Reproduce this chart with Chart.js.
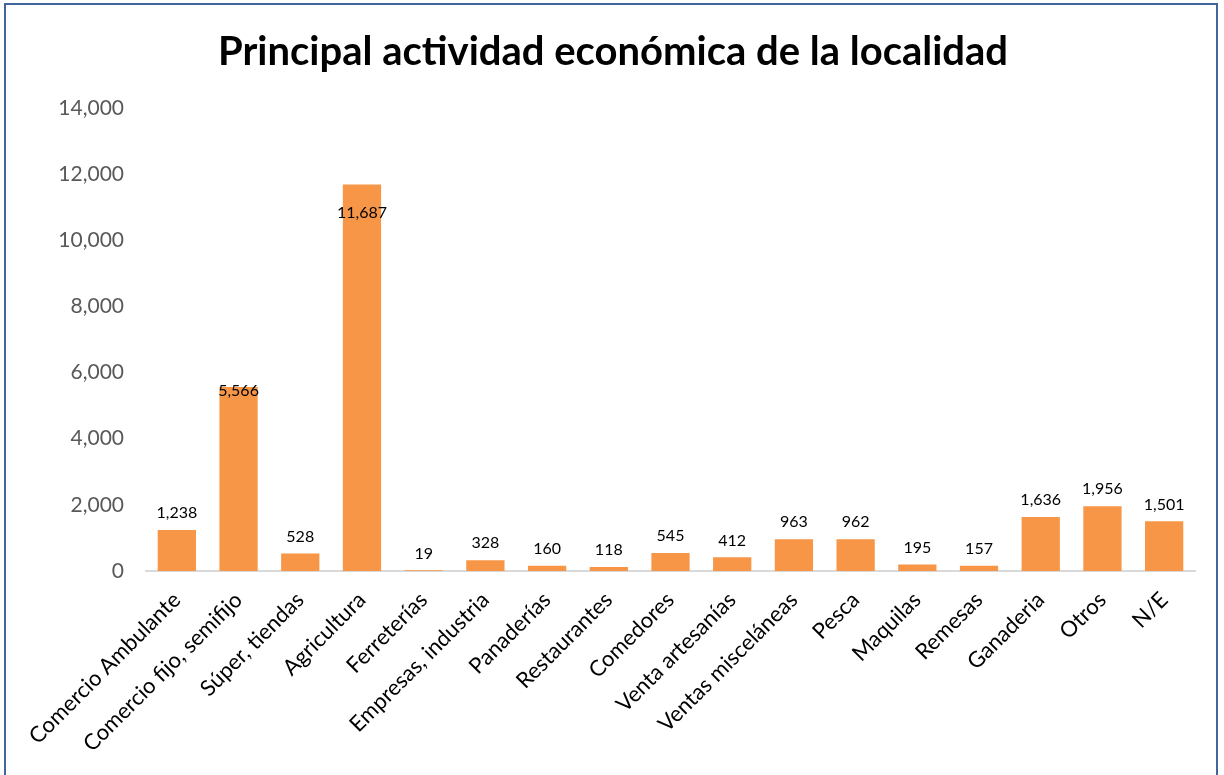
<!DOCTYPE html>
<html>
<head>
<meta charset="utf-8">
<script src="https://cdn.jsdelivr.net/npm/chart.js@4.4.1/dist/chart.umd.min.js"></script>
<style>
  html, body { margin: 0; padding: 0; background: #ffffff; }
  #wrap { position: relative; width: 1224px; height: 775px; overflow: hidden; }
  #frame { position: absolute; left: 4px; top: 3px; width: 1214px; height: 800px; border: 2px solid #41679A; box-sizing: border-box; pointer-events: none; }
  canvas { position: absolute; left: 0; top: 0; }
</style>
</head>
<body>
<div id="wrap">
  <canvas id="c" width="1224" height="775"></canvas>
  <div id="frame"></div>
</div>
<script>
const chartTitle = 'Principal actividad económica de la localidad';
const categories = ['Comercio Ambulante', 'Comercio fijo, semifijo', 'Súper, tiendas', 'Agricultura', 'Ferreterías', 'Empresas, industria', 'Panaderías', 'Restaurantes', 'Comedores', 'Venta artesanías', 'Ventas misceláneas', 'Pesca', 'Maquilas', 'Remesas', 'Ganaderia', 'Otros', 'N/E'];
const values = [1238, 5566, 528, 11687, 19, 328, 160, 118, 545, 412, 963, 962, 195, 157, 1636, 1956, 1501];
const yTicks = [0, 2000, 4000, 6000, 8000, 10000, 12000, 14000];

const fmt = v => v.toLocaleString('en-US');

const labelPlugin = {
  id: 'valueLabels',
  afterDatasetsDraw(chart) {
    const ctx = chart.ctx;
    const meta = chart.getDatasetMeta(0);
    ctx.save();
    ctx.font = '16px Lato';
    ctx.fillStyle = '#000000';
    ctx.textAlign = 'center';
    ctx.textBaseline = 'middle';
    meta.data.forEach((bar, i) => {
      const v = values[i];
      let y;
      if (v > 10000) y = bar.y + 28;
      else if (v > 5000) y = bar.y + 4;
      else y = bar.y - 17;
      ctx.fillText(fmt(v), bar.x, y);
    });
    ctx.restore();
  }
};

new Chart(document.getElementById('c'), {
  type: 'bar',
  data: {
    labels: categories,
    datasets: [{
      data: values,
      backgroundColor: '#F79646',
      borderWidth: 0,
      categoryPercentage: 0.62,
      barPercentage: 1
    }]
  },
  options: {
    responsive: false,
    animation: false,
    devicePixelRatio: 1,
    layout: { padding: { left: 31, right: 29, top: 0, bottom: 0 } },
    plugins: {
      legend: { display: false },
      tooltip: { enabled: false },
      title: {
        display: true,
        text: chartTitle,
        color: '#000000',
        font: { family: 'Lato', size: 40, weight: 'bold' },
        padding: { top: 28, bottom: 32 }
      }
    },
    scales: {
      x: {
        grid: { display: false, drawTicks: false },
        border: { display: true, color: '#D9D9D9', width: 2 },
        ticks: {
          color: '#000000',
          font: { family: 'Lato', size: 22 },
          minRotation: 45,
          maxRotation: 45,
          autoSkip: false,
          padding: 16
        },
        afterFit(scale) { scale.height = 204; }
      },
      y: {
        min: 0,
        max: 14000,
        afterBuildTicks(scale) { scale.ticks = yTicks.map(v => ({ value: v })); },
        grid: { display: false, drawTicks: false },
        border: { display: false },
        ticks: {
          color: '#595959',
          font: { family: 'Lato', size: 21 },
          padding: 22,
          callback: v => fmt(v)
        },
        afterFit(scale) { scale.width = 115; }
      }
    }
  },
  plugins: [labelPlugin]
});
</script>
</body>
</html>
